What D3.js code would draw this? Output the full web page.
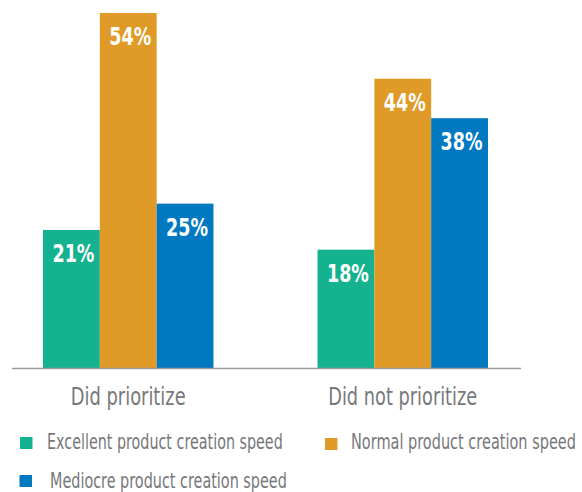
<!DOCTYPE html>
<html>
<head>
<meta charset="utf-8">
<script src="https://cdn.jsdelivr.net/npm/d3@7"></script>
<style>
  html, body { margin: 0; padding: 0; background: #fff; }
  svg { display: block; }
  text { font-family: "DejaVu Sans", sans-serif; }
</style>
</head>
<body>
<svg id="chart" width="582" height="492"></svg>
<script>
// Survey groups and the share of respondents in each speed bucket (%)
const categories = ["Did prioritize", "Did not prioritize"];
const seriesNames = ["Excellent product creation speed", "Normal product creation speed", "Mediocre product creation speed"];
const excellent = [21, 18];
const normal = [54, 44];
const mediocre = [25, 38];
const seriesColors = ["#14b28e", "#e09a27", "#0079c1"];

const values = [excellent, normal, mediocre];
const rows = categories.map((c, i) => ({
  category: c,
  bars: seriesNames.map((s, j) => ({ series: s, value: values[j][i], color: seriesColors[j] }))
}));

const svg = d3.select("#chart");
const baseY = 368;

// squeeze a text horizontally around its anchor so it reads like a condensed face
function condense(sel, width, ax, ay) {
  sel.each(function (d) {
    const t = d3.select(this);
    const w = typeof width === "function" ? width(d) : width;
    const x = typeof ax === "function" ? ax(d) : ax;
    const yy = typeof ay === "function" ? ay(d) : ay;
    const k = w / this.getComputedTextLength();
    t.attr("x", 0).attr("y", 0)
      .attr("transform", `translate(${x},${yy}) scale(${k},1)`);
  });
}

const x0 = d3.scaleBand().domain(categories).range([43, 488]).paddingInner(0.379).paddingOuter(0);
const x1 = d3.scaleBand().domain(seriesNames).range([0, x0.bandwidth()]).padding(0);
const y = d3.scaleLinear().domain([0, 54]).range([baseY, 13]);

const groups = svg.selectAll("g.group").data(rows).join("g")
  .attr("class", "group")
  .attr("transform", d => `translate(${x0(d.category)},0)`);

groups.selectAll("rect").data(d => d.bars).join("rect")
  .attr("x", d => x1(d.series))
  .attr("y", d => y(d.value))
  .attr("width", x1.bandwidth())
  .attr("height", d => baseY - y(d.value))
  .attr("fill", d => d.color);

// value labels inside the top of each bar
groups.selectAll("text.val").data(d => d.bars).join("text")
  .attr("class", "val")
  .attr("text-anchor", "middle")
  .attr("fill", "#fff")
  .attr("font-weight", "bold")
  .attr("font-size", 24.5)
  .text(d => d.value + "%")
  .call(condense, 42, d => x1(d.series) + x1.bandwidth() / 2 + 2, d => y(d.value) + 32);

// baseline axis with category labels
const catWidths = { "Did prioritize": 115, "Did not prioritize": 149 };
const axis = d3.axisBottom(x0).tickSize(0).tickPadding(0);
const axisG = svg.append("g").attr("transform", `translate(0,${baseY})`).call(axis);
axisG.select(".domain").remove();
axisG.selectAll(".tick text")
  .attr("dy", null)
  .attr("fill", "#77787b")
  .attr("font-size", 24)
  .attr("font-family", null)
  .call(condense, d => catWidths[d], 0, 37);
svg.append("line")
  .attr("x1", 12).attr("x2", 521)
  .attr("y1", baseY + 0.5).attr("y2", baseY + 0.5)
  .attr("stroke", "#999").attr("stroke-width", 1.5);

// legend
const legendItems = [
  { name: seriesNames[0], color: seriesColors[0], sx: 20, sy: 437, tx: 47, ty: 449, w: 236 },
  { name: seriesNames[1], color: seriesColors[1], sx: 325, sy: 438, tx: 351, ty: 449, w: 225 },
  { name: seriesNames[2], color: seriesColors[2], sx: 19.5, sy: 475, tx: 50, ty: 488, w: 237 }
];
const lg = svg.selectAll("g.legend").data(legendItems).join("g").attr("class", "legend");
lg.append("rect")
  .attr("x", d => d.sx).attr("y", d => d.sy)
  .attr("width", 12.5).attr("height", 12)
  .attr("fill", d => d.color);
lg.append("text")
  .attr("fill", "#77787b")
  .attr("font-size", 21.5)
  .text(d => d.name)
  .call(condense, d => d.w, d => d.tx, d => d.ty);
</script>
</body>
</html>
